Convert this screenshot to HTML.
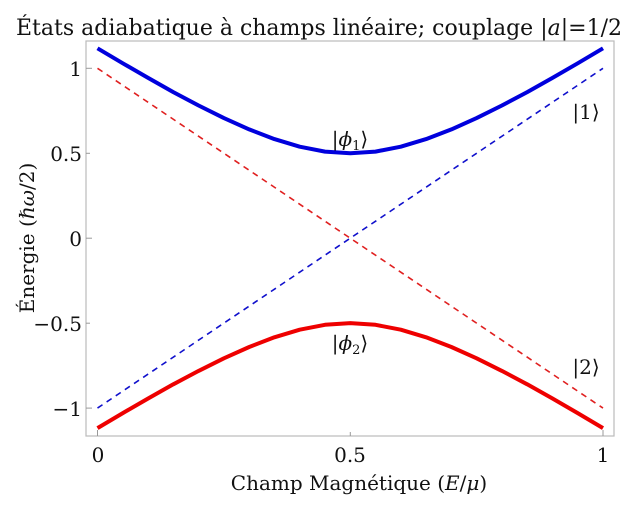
<!DOCTYPE html><html><head><style>body{margin:0;background:#fff}svg{display:block}</style></head><body>
<svg width="640" height="512" xmlns="http://www.w3.org/2000/svg" font-family="DejaVu Serif, Liberation Serif, serif">
<rect x="86" y="41" width="528" height="395" fill="none" stroke="#bbb" stroke-width="1.2"/>
<text x="319" y="35" font-size="22" text-anchor="middle" fill="#111">États adiabatique à champs linéaire; couplage |<tspan font-style="italic">a</tspan>|=1/2</text>
<g stroke="#999" stroke-width="1"><line x1="86" y1="68.3" x2="92" y2="68.3"/><line x1="86" y1="153.3" x2="90" y2="153.3"/><line x1="86" y1="238.2" x2="92" y2="238.2"/><line x1="86" y1="323.2" x2="90" y2="323.2"/><line x1="86" y1="408.1" x2="92" y2="408.1"/>
<line x1="97.5" y1="436" x2="97.5" y2="430"/><line x1="350.3" y1="436" x2="350.3" y2="432"/><line x1="603" y1="436" x2="603" y2="430"/></g>
<g font-size="20" fill="#111" text-anchor="end"><text x="82" y="76">1</text><text x="82" y="161">0.5</text><text x="82" y="246">0</text><text x="82" y="331">−0.5</text><text x="82" y="416">−1</text></g>
<g font-size="20" fill="#111" text-anchor="middle"><text x="98" y="462">0</text><text x="350" y="462">0.5</text><text x="603" y="462">1</text></g>
<text x="359" y="490" font-size="20" text-anchor="middle" fill="#111">Champ Magnétique (<tspan font-style="italic">E</tspan>/<tspan font-style="italic">μ</tspan>)</text>
<text transform="translate(34,238) rotate(-90)" font-size="20" text-anchor="middle" fill="#111">Énergie (<tspan font-style="italic">ℏω</tspan>/2)</text>
<line x1="97.5" y1="68.3" x2="603" y2="408.1" stroke="#e02020" stroke-width="1.6" stroke-dasharray="6,5"/>
<line x1="97.5" y1="408.1" x2="603" y2="68.3" stroke="#1010cc" stroke-width="1.6" stroke-dasharray="6,5"/>
<polyline fill="none" stroke="#0000dd" stroke-width="4" stroke-linejoin="round" points="97.5,48.3 122.8,63.3 148.1,77.9 173.3,92.1 198.6,105.5 223.9,118.1 249.2,129.4 274.4,139.1 299.7,146.7 325,151.6 350.3,153.25 375.5,151.6 400.8,146.7 426.1,139.1 451.4,129.4 476.6,118.1 501.9,105.5 527.2,92.1 552.5,77.9 577.7,63.3 603,48.3"/>
<polyline fill="none" stroke="#ee0000" stroke-width="4" stroke-linejoin="round" points="97.5,428.1 122.8,413.1 148.1,398.5 173.3,384.3 198.6,370.9 223.9,358.3 249.2,347 274.4,337.3 299.7,329.7 325,324.8 350.3,323.15 375.5,324.8 400.8,329.7 426.1,337.3 451.4,347 476.6,358.3 501.9,370.9 527.2,384.3 552.5,398.5 577.7,413.1 603,428.1"/>
<g font-size="20" fill="#111" text-anchor="middle"><text x="350" y="146">|<tspan font-style="italic">ϕ</tspan><tspan font-size="13" dy="4">1</tspan><tspan dy="-4">⟩</tspan></text>
<text x="350" y="350">|<tspan font-style="italic">ϕ</tspan><tspan font-size="13" dy="4">2</tspan><tspan dy="-4">⟩</tspan></text>
<text x="586" y="119">|1⟩</text><text x="586" y="374">|2⟩</text></g>
</svg></body></html>
